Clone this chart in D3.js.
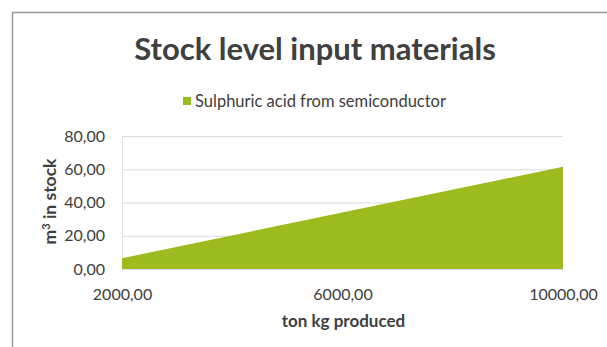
<!DOCTYPE html>
<html>
<head>
<meta charset="utf-8">
<script src="https://cdn.jsdelivr.net/npm/d3@7"></script>
<style>
  html, body { margin: 0; padding: 0; background: #fff; }
  svg { display: block; }
</style>
</head>
<body>
<svg id="chart" width="607" height="347"></svg>
<script>
// Production volume (ton kg) and resulting stock (m³)
const produced = [2000, 10000];
const stock = [6.5, 61.5];
const xTicks = [2000, 6000, 10000];
const yTicks = [0, 20, 40, 60, 80];
const seriesName = "Sulphuric acid from semiconductor";

const svg = d3.select("#chart");
const font = "Lato, 'Open Sans', sans-serif";
const textColor = "#404040";

// chart frame
svg.append("path")
  .attr("d", "M12.5,347 L12.5,12.5 L607,12.5")
  .attr("fill", "none")
  .attr("stroke", "#9a9a9a")
  .attr("stroke-width", 1.5);

const plot = { left: 122, right: 563, top: 136, bottom: 269 };

const x = d3.scaleLinear().domain([2000, 10000]).range([plot.left, plot.right]);
const y = d3.scaleLinear().domain([0, 80]).range([plot.bottom, plot.top]);

const fmt = v => d3.format(".2f")(v).replace(".", ",");

// gridlines
svg.append("g")
  .selectAll("line")
  .data(yTicks)
  .join("line")
  .attr("x1", plot.left).attr("x2", plot.right)
  .attr("y1", d => y(d) + 0.5).attr("y2", d => y(d) + 0.5)
  .attr("stroke", "#d8dce6")
  .attr("stroke-width", 1);

svg.append("line")
  .attr("x1", plot.left + 0.5).attr("x2", plot.left + 0.5)
  .attr("y1", plot.top).attr("y2", plot.bottom)
  .attr("stroke", "#e2e4ea");

// area series
const data = produced.map((p, i) => ({ p, v: stock[i] }));
svg.append("path")
  .datum(data)
  .attr("fill", "#9bbb1f")
  .attr("d", d3.area().x(d => x(d.p)).y0(y(0)).y1(d => y(d.v)));

// y axis
const yAxis = svg.append("g")
  .attr("transform", `translate(${plot.left - 14},0)`)
  .call(d3.axisLeft(y).tickValues(yTicks).tickFormat(fmt).tickSize(0));
yAxis.select(".domain").remove();
yAxis.selectAll("text")
  .attr("font-family", font).attr("font-size", 16).attr("fill", textColor);

// x axis
const xAxis = svg.append("g")
  .attr("transform", `translate(0,${plot.bottom})`)
  .call(d3.axisBottom(x).tickValues(xTicks).tickFormat(fmt).tickSize(0));
xAxis.select(".domain").remove();
xAxis.selectAll("text")
  .attr("y", 31).attr("dy", null)
  .attr("font-family", font).attr("font-size", 16).attr("fill", textColor);

// title
svg.append("text")
  .attr("x", 315).attr("y", 60)
  .attr("text-anchor", "middle")
  .attr("font-family", font).attr("font-weight", "bold")
  .attr("font-size", 31).attr("fill", textColor)
  .text("Stock level input materials");

// legend
const legend = svg.append("g").attr("transform", "translate(183,101)");
legend.append("rect")
  .attr("x", 0).attr("y", -4).attr("width", 8).attr("height", 8)
  .attr("fill", "#9bbb1f");
legend.append("text")
  .attr("x", 12).attr("y", 0).attr("dy", "0.35em")
  .attr("font-family", font).attr("font-size", 16.5).attr("fill", textColor)
  .text(seriesName);

// axis titles
svg.append("text")
  .attr("x", (plot.left + plot.right) / 2 + 1).attr("y", 327)
  .attr("text-anchor", "middle")
  .attr("font-family", font).attr("font-weight", "bold")
  .attr("font-size", 17).attr("fill", textColor)
  .text("ton kg produced");

const yTitle = svg.append("text")
  .attr("transform", `translate(56,${(plot.top + plot.bottom) / 2 - 1}) rotate(-90)`)
  .attr("text-anchor", "middle")
  .attr("font-family", font).attr("font-weight", "bold")
  .attr("font-size", 17.5).attr("fill", textColor);
yTitle.append("tspan").text("m");
yTitle.append("tspan").attr("font-size", 11).attr("dy", -6).text("3");
yTitle.append("tspan").attr("dy", 6).text(" in stock");
</script>
</body>
</html>
